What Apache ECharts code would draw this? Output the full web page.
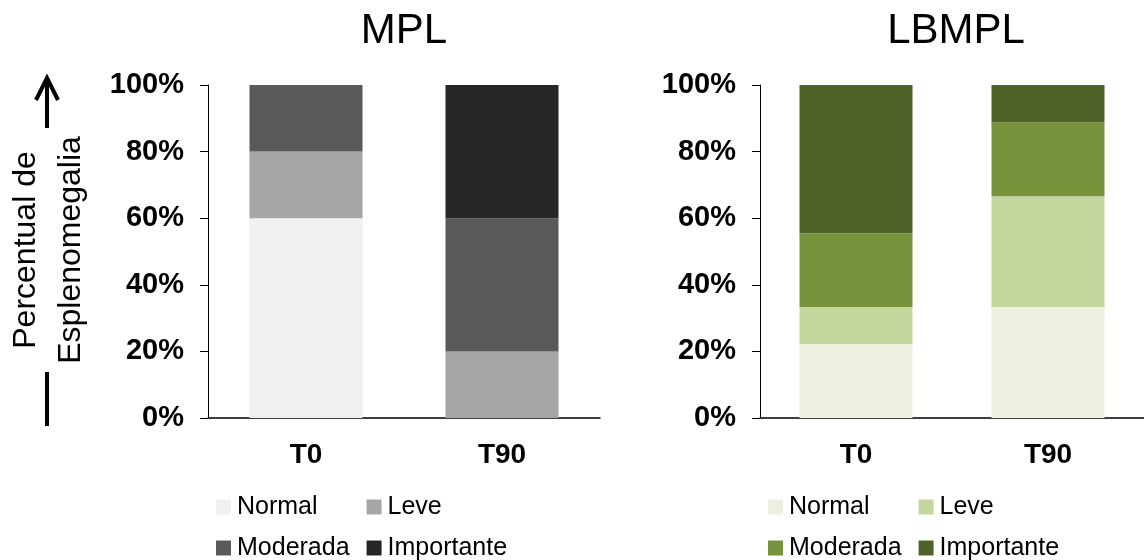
<!DOCTYPE html>
<html>
<head>
<meta charset="utf-8">
<script src="https://cdn.jsdelivr.net/npm/echarts@6/dist/echarts.min.js"></script>
<style>
  html, body { margin: 0; padding: 0; background: #fff; }
  #chart { width: 1144px; height: 560px; }
</style>
</head>
<body>
<div id="chart"></div>
<script>
// Time points and severity classes
const categories = ['T0', 'T90'];
const severities = ['Normal', 'Leve', 'Moderada', 'Importante'];
const yTicks = [0, 20, 40, 60, 80, 100];

// MPL group: percent of animals per class (T0, T90)
const mplNormal = [60, 0];
const mplLeve = [20, 20];
const mplModerada = [20, 40];
const mplImportante = [0, 40];

// LBMPL group: percent of animals per class (T0, T90)
const lbNormal = [22.2, 33.3];
const lbLeve = [11.1, 33.3];
const lbModerada = [22.2, 22.2];
const lbImportante = [44.5, 11.2];

const mplColors = ['#f0f0f0', '#a6a6a6', '#595959', '#262626'];
const lbColors = ['#ebf1de', '#c3d69b', '#77933c', '#4f6228'];

const FONT = '"Liberation Sans", Arial, sans-serif';

const panels = [
  { title: 'MPL', left: 208, values: [mplNormal, mplLeve, mplModerada, mplImportante], colors: mplColors },
  { title: 'LBMPL', left: 760, values: [lbNormal, lbLeve, lbModerada, lbImportante], colors: lbColors }
];

const GRID_W = 392, GRID_TOP = 85, GRID_H = 333;

const grid = [], xAxis = [], yAxis = [], series = [], legend = [], titles = [];

panels.forEach((p, i) => {
  grid.push({ left: p.left, top: GRID_TOP, width: GRID_W, height: GRID_H, containLabel: false });
  xAxis.push({
    type: 'category', gridIndex: i, data: categories,
    axisLine: { lineStyle: { color: '#000', width: 1.5 } },
    axisTick: { show: false },
    axisLabel: { fontFamily: FONT, fontSize: 28, fontWeight: 'bold', color: '#000', margin: 23 }
  });
  yAxis.push({
    type: 'value', gridIndex: i, min: yTicks[0], max: yTicks[yTicks.length - 1], interval: 20,
    axisLine: { show: true, lineStyle: { color: '#000', width: 1 } },
    axisTick: { show: true, length: 8, lineStyle: { color: '#000' } },
    splitLine: { show: false },
    axisLabel: { fontFamily: FONT, fontSize: 29, fontWeight: 'bold', color: '#000', margin: 24, formatter: '{value}%' }
  });
  severities.forEach((s, k) => {
    series.push({
      name: s, type: 'bar', stack: 'grp' + i,
      xAxisIndex: i, yAxisIndex: i,
      barWidth: 113,
      data: p.values[k],
      itemStyle: { color: p.colors[k] },
      emphasis: { disabled: true }
    });
  });
  // legend: two rows of two entries
  const rows = [[0, 1, 49], [2, 3, 17]];
  rows.forEach((r, ri) => {
    legend.push({
      left: p.left + 8, top: ri === 0 ? 494 : 535,
      orient: 'horizontal', padding: 0,
      itemWidth: 15, itemHeight: 15, itemGap: r[2],
      selectedMode: false,
      icon: 'rect',
      textStyle: { fontFamily: FONT, fontSize: 25, color: '#000', padding: [0, 0, 0, 1], lineHeight: 26 },
      data: [
        { name: severities[r[0]], itemStyle: { color: p.colors[r[0]] } },
        { name: severities[r[1]], itemStyle: { color: p.colors[r[1]] } }
      ]
    });
  });
  titles.push({
    type: 'text', x: p.left + GRID_W / 2, y: 31,
    style: { text: p.title, font: '42px ' + FONT, fill: '#000', align: 'center', verticalAlign: 'middle' }
  });
});

// vertical axis caption with arrow
const caption = [
  {
    type: 'text', x: 26, y: 250, rotation: Math.PI / 2,
    style: { text: 'Percentual de', font: '32px ' + FONT, fill: '#000', align: 'center', verticalAlign: 'middle' }
  },
  {
    type: 'text', x: 71, y: 250, rotation: Math.PI / 2,
    style: { text: 'Esplenomegalia', font: '32px ' + FONT, fill: '#000', align: 'center', verticalAlign: 'middle' }
  },
  {
    type: 'line', shape: { x1: 47, y1: 128, x2: 47, y2: 79 },
    style: { stroke: '#000', lineWidth: 4 }
  },
  {
    type: 'polyline', shape: { points: [[36, 100], [47, 78], [58, 100]] },
    style: { stroke: '#000', lineWidth: 4, fill: null, lineJoin: 'miter' }
  },
  {
    type: 'line', shape: { x1: 47, y1: 372, x2: 47, y2: 426 },
    style: { stroke: '#000', lineWidth: 4 }
  }
];

const chart = echarts.init(document.getElementById('chart'), null, { renderer: 'canvas' });
chart.setOption({
  backgroundColor: '#fff',
  animation: false,
  grid, xAxis, yAxis, series, legend,
  graphic: titles.concat(caption)
});
</script>
</body>
</html>
